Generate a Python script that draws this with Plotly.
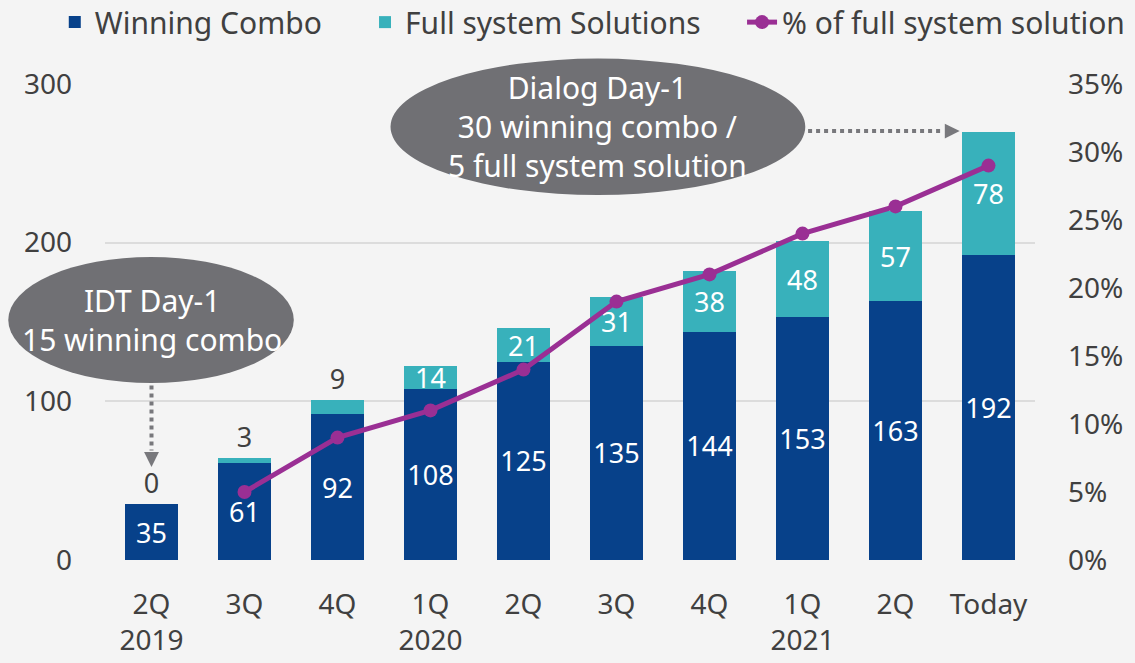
import plotly.graph_objects as go

# ---- data ----
tick_labels = ["2Q<br>2019", "3Q", "4Q", "1Q<br>2020", "2Q", "3Q", "4Q", "1Q<br>2021", "2Q", "Today"]
winning_combo = [35, 61, 92, 108, 125, 135, 144, 153, 163, 192]
full_system = [0, 3, 9, 14, 21, 31, 38, 48, 57, 78]
pct_full_system = [None, 0.05, 0.09, 0.11, 0.14, 0.19, 0.21, 0.24, 0.26, 0.29]

x_idx = list(range(len(tick_labels)))

DARK = "#07418a"
CYAN = "#38b1bb"
PURPLE = "#9a2f94"
GRAYE = "#707074"
ARROW = "#78787c"
TXT = "#404040"
FONT = "Noto Sans"

XR = (-0.5, 9.5)
YR = (0, 300)

def px(c):
    return (c - XR[0]) / (XR[1] - XR[0])

def py(v):
    return (v - YR[0]) / (YR[1] - YR[0])

fig = go.Figure()

fig.add_trace(go.Bar(
    x=x_idx, y=winning_combo, name="Winning Combo", legend="legend",
    marker=dict(color=DARK, line=dict(width=0)),
    text=[str(v) for v in winning_combo], textposition="inside", textangle=0,
    insidetextanchor="middle", constraintext="none",
    insidetextfont=dict(color="white", size=27, family=FONT),
    cliponaxis=False, hoverinfo="skip",
))

fs_pos = ["outside" if v < 12 else "inside" for v in full_system]
fig.add_trace(go.Bar(
    x=x_idx, y=full_system, name="Full system Solutions", legend="legend2",
    marker=dict(color=CYAN, line=dict(width=0)),
    text=[str(v) for v in full_system], textposition=fs_pos, textangle=0,
    insidetextanchor="middle", constraintext="none",
    insidetextfont=dict(color="white", size=27, family=FONT),
    outsidetextfont=dict(color=TXT, size=27, family=FONT),
    cliponaxis=False, hoverinfo="skip",
))

fig.add_trace(go.Scatter(
    x=x_idx, y=pct_full_system, name="% of full system solution", legend="legend3",
    yaxis="y2", mode="lines+markers",
    line=dict(color=PURPLE, width=5),
    marker=dict(color=PURPLE, size=14),
    cliponaxis=False, hoverinfo="skip",
))

shapes = []
annotations = []

# ellipses
shapes.append(dict(type="circle", xref="paper", yref="paper",
                   x0=px(2.57), x1=px(7.03), y0=py(230), y1=py(316),
                   fillcolor=GRAYE, line=dict(width=0), layer="above"))
shapes.append(dict(type="circle", xref="paper", yref="paper",
                   x0=px(-1.54), x1=px(1.53), y0=py(111.5), y1=py(191),
                   fillcolor=GRAYE, line=dict(width=0), layer="above"))

annotations.append(dict(xref="paper", yref="paper", x=px(4.8), y=py(273),
                        text="Dialog Day-1<br>30 winning combo /<br>5 full system solution",
                        showarrow=False, font=dict(color="white", size=30, family=FONT),
                        xanchor="center", yanchor="middle"))
annotations.append(dict(xref="paper", yref="paper", x=px(0.0), y=py(151),
                        text="IDT Day-1<br>15 winning combo",
                        showarrow=False, font=dict(color="white", size=30, family=FONT),
                        xanchor="center", yanchor="middle"))

# dotted arrows
shapes.append(dict(type="line", xref="paper", yref="paper",
                   x0=px(0), x1=px(0), y0=py(110), y1=py(69),
                   line=dict(color=ARROW, width=4, dash="dot"), layer="above"))
shapes.append(dict(type="path", xref="paper", yref="paper",
                   path=f"M {px(-0.08)} {py(68)} L {px(0.08)} {py(68)} L {px(0)} {py(58.6)} Z",
                   fillcolor=ARROW, line=dict(width=0), layer="above"))
shapes.append(dict(type="line", xref="paper", yref="paper",
                   x0=px(7.06), x1=px(8.52), y0=py(270.3), y1=py(270.3),
                   line=dict(color=ARROW, width=4, dash="dot"), layer="above"))
shapes.append(dict(type="path", xref="paper", yref="paper",
                   path=f"M {px(8.53)} {py(275)} L {px(8.53)} {py(265.6)} L {px(8.69)} {py(270.3)} Z",
                   fillcolor=ARROW, line=dict(width=0), layer="above"))

leg_common = dict(orientation="h", xanchor="left", y=1.13, yanchor="middle",
                  font=dict(size=30, color=TXT, family=FONT), bgcolor="rgba(0,0,0,0)",
                  itemwidth=30)

fig.update_layout(
    width=1135, height=663,
    margin=dict(l=105, r=100, t=84, b=103, autoexpand=False),
    paper_bgcolor="#f4f4f4", plot_bgcolor="rgba(0,0,0,0)",
    barmode="stack", bargap=0.44,
    font=dict(family=FONT, color=TXT, size=28),
    showlegend=True,
    legend=dict(x=-0.054, **leg_common),
    legend2=dict(x=0.2796, **leg_common),
    legend3=dict(x=0.685, **leg_common),
    xaxis=dict(range=list(XR), tickmode="array", tickvals=x_idx, ticktext=tick_labels,
               showgrid=False, zeroline=False, showline=False, ticks="",
               ticklabelstandoff=25, tickfont=dict(size=28, color=TXT)),
    yaxis=dict(range=list(YR), tickvals=[0, 100, 200, 300], showgrid=True,
               gridcolor="#dcdcdc", gridwidth=2, zeroline=False, showline=False,
               ticks="", ticklabelstandoff=32, tickfont=dict(size=28, color=TXT)),
    yaxis2=dict(range=[0, 0.35], overlaying="y", side="right", tickformat=".0%",
                tickvals=[0, 0.05, 0.10, 0.15, 0.20, 0.25, 0.30, 0.35],
                showgrid=False, zeroline=False, showline=False, ticks="",
                ticklabelstandoff=32, tickfont=dict(size=28, color=TXT)),
    shapes=shapes, annotations=annotations,
)

fig.write_html("out.html", config={"displayModeBar": False},
               post_script="document.body.style.margin='0';document.body.style.overflow='hidden';")
